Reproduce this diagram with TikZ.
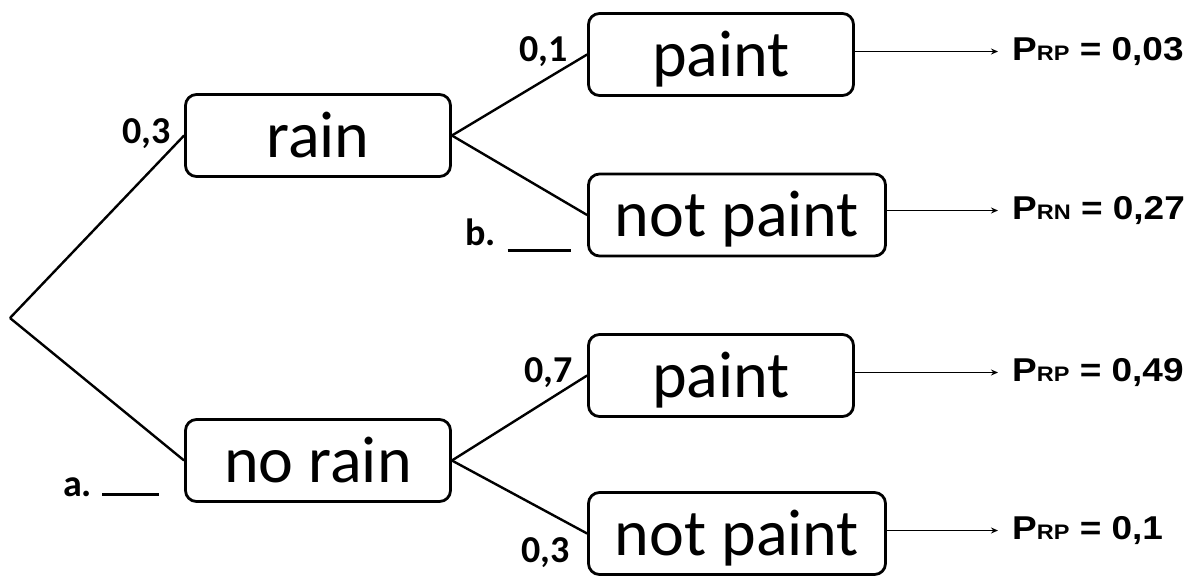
\documentclass[tikz,border=0pt]{standalone}
\usepackage{fontspec}
\usepackage{graphicx}
\setmainfont{Carlito}
\newfontfamily\pfont{Liberation Sans}
\usetikzlibrary{arrows.meta}
\tikzset{
  choice/.style={draw, line width=2.8pt, rounded corners=11pt, inner sep=0pt,
    minimum height=82pt, text height=43pt, text depth=0pt,
    font=\fontsize{66}{70}\selectfont},
  branch/.style={line width=2.4pt},
  prob/.style={anchor=base west, inner sep=0pt, font=\fontsize{38}{40}\selectfont\bfseries},
  result/.style={anchor=west, inner sep=0pt, font=\pfont\bfseries\fontsize{33}{36}\selectfont},
  outarrow/.style={line width=1.1pt, -{Stealth[length=7pt,width=6pt]}, shorten >=14pt}
}
\newcommand{\sub}[1]{{\fontsize{21}{22}\selectfont #1}}
\begin{document}
\begin{tikzpicture}[x=1pt, y=-1pt]
  \useasboundingbox (0,0) rectangle (1197,576);

  % root of the tree
  \coordinate (root) at (10,318);

  % first stage
  \node[choice, minimum width=265pt] (rain)   at (318,135.5) {rain};
  \node[choice, minimum width=265pt] (norain) at (318,460.5) {no rain};

  % second stage
  \node[choice, minimum width=265pt] (paintA)    at (721,54.5)  {paint};
  \node[choice, minimum width=297pt] (notpaintA) at (737,215)   {not paint};
  \node[choice, minimum width=265pt] (paintB)    at (721,375.5) {paint};
  \node[choice, minimum width=297pt] (notpaintB) at (737,533.5) {not paint};

  % branches
  \draw[branch] (root) -- (rain.west);
  \draw[branch] (root) -- (norain.west);
  \draw[branch] (rain.east) -- (paintA.west);
  \draw[branch] (rain.east) -- (notpaintA.west);
  \draw[branch] (norain.east) -- (paintB.west);
  \draw[branch] (norain.east) -- (notpaintB.west);

  % branch probabilities
  \node[prob] (pr)  at (122,143) {0,3};
  \node[prob] (pa)  at (519,61)  {0,1};
  \node[prob] (pb)  at (524,382) {0,7};
  \node[prob] (pc)  at (521,562) {0,3};
  \node[prob] (qa)  at (63,496)  {a.\hspace{10pt}\rule{57pt}{2.6pt}};
  \node[prob] (qb)  at (465,245) {b.\hspace{12pt}\rule[-7pt]{63pt}{2.6pt}};

  % joint probabilities
  \node[result] (rA) at (1012,51.5)  {\scalebox{1.12}[1]{P\sub{RP} = 0,03}};
  \node[result] (rB) at (1012,210.5) {\scalebox{1.12}[1]{P\sub{RN} = 0,27}};
  \node[result] (rC) at (1012,372.5) {\scalebox{1.12}[1]{P\sub{RP} = 0,49}};
  \node[result] (rD) at (1012,530.5) {\scalebox{1.12}[1]{P\sub{RP} = 0,1}};

  \draw[outarrow] (rA.west -| paintA.east)    -- (rA.west);
  \draw[outarrow] (rB.west -| notpaintA.east) -- (rB.west);
  \draw[outarrow] (rC.west -| paintB.east)    -- (rC.west);
  \draw[outarrow] (rD.west -| notpaintB.east) -- (rD.west);
\end{tikzpicture}
\end{document}
